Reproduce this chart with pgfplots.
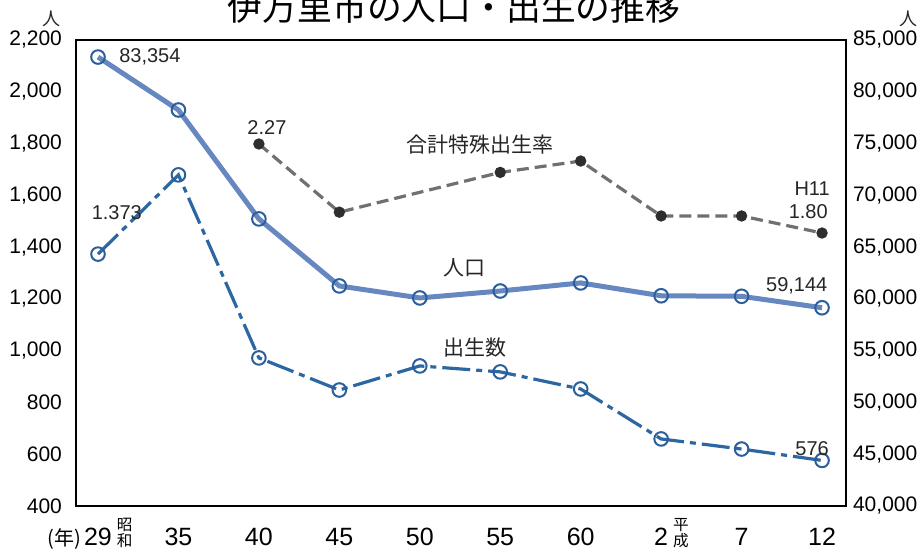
\documentclass[border=0pt]{standalone}
\usepackage{pgfplots}
\pgfplotsset{compat=1.18}
\usepackage{pgfplotstable}
\usepackage{fontspec}
\setmainfont{Liberation Sans}
\newfontfamily\cjk{Noto Sans CJK JP}
\definecolor{popline}{HTML}{6787C0}
\definecolor{popedge}{HTML}{2B5E9C}
\definecolor{birth}{HTML}{2D67A2}
\definecolor{tfrline}{HTML}{707070}
\definecolor{tfrdot}{HTML}{2E2E2E}

\pgfplotstableread{
x pop
0 83354
1 78240
2 67720
3 61250
4 60090
5 60760
6 61540
7 60300
8 60250
9 59144
}\poptable

\pgfplotstableread{
x births
0 1373
1 1679
2 972
3 848
4 941
5 918
6 852
7 659
8 620
9 576
}\birthtable

\pgfplotstableread{
x tfr
2 2.27
3 1.91
5 2.12
6 2.18
7 1.89
8 1.89
9 1.80
}\tfrtable

\newcommand{\era}[2]{\rlap{\hspace{2.5pt}\raisebox{-0.5pt}[0pt][0pt]{\vbox{\cjk\fontsize{7.8}{8}\selectfont\hbox{#1}\hbox{#2}}}}}

\begin{document}
\begin{tikzpicture}
\pgfplotsset{
  base/.style={width=385pt,height=233pt,scale only axis,
    xmin=-0.2735,xmax=9.298,clip=false,
    major tick length=0pt,
    axis line style={line width=1pt,black}},
}
% TFR axis (hidden)
\begin{axis}[base, hide axis, ymin=0.359, ymax=2.819]
\addplot[tfrline, line width=1.6pt, dash pattern=on 6pt off 3pt,
  mark=*, mark size=2pt, mark options={solid,fill=tfrdot,draw=tfrdot}]
  table[x=x,y=tfr]{\tfrtable};
\end{axis}
% main (left) axis with births
\begin{axis}[base, name=ax,
  ymin=400, ymax=2200,
  ytick={400,600,...,2200},
  ytick pos=left,
  xtick={0,...,9},
  xtick pos=bottom,
  xticklabels={{\llap{{\cjk\fontsize{10}{11}\selectfont(年)}\hspace{1.5pt}}29\era{昭}{和}},35,40,45,50,55,60,{2\era{平}{成}},7,12},
  xticklabel style={font=\fontsize{12.5}{14}\selectfont, yshift=-7.5pt},
  yticklabel style={font=\fontsize{10.5}{12}\selectfont, xshift=-3.5pt,
    /pgf/number format/1000 sep={,}},
  /pgf/number format/assume math mode=true,
]
\addplot[birth, line width=1.6pt, dash pattern=on 14pt off 3pt on 3pt off 3pt,
  mark=o, mark size=3.4pt, mark options={solid,fill=white,draw=popedge,line width=1pt}]
  table[x=x,y=births]{\birthtable};
\end{axis}
% right axis with population
\begin{axis}[base,
  ymin=40000, ymax=85000,
  axis x line=none, axis y line*=right,
  ytick={40000,45000,...,85000},
  scaled y ticks=false,
  yticklabel style={font=\fontsize{10.5}{12}\selectfont,
    /pgf/number format/1000 sep={,}},
  /pgf/number format/assume math mode=true,
]
\addplot[popline, line width=2.5pt,
  mark=o, mark size=3.4pt, mark options={fill=white,draw=popedge,line width=1pt}]
  table[x=x,y=pop]{\poptable};
% annotations
\begin{scope}[every node/.style={font=\fontsize{10}{12}\selectfont, text=black!85, inner sep=0pt}]
\node at (rel axis cs:0.096,0.9635) {83,354};
\node at (rel axis cs:0.053,0.629) {1.373};
\node at (rel axis cs:0.248,0.813) {2.27};
\node at (rel axis cs:0.956,0.680) {H11};
\node at (rel axis cs:0.951,0.631) {1.80};
\node at (rel axis cs:0.936,0.472) {59,144};
\node at (rel axis cs:0.956,0.124) {576};
\node[font=\cjk\fontsize{10.5}{12}\selectfont] at (rel axis cs:0.525,0.775) {合計特殊出生率};
\node[font=\cjk\fontsize{10.5}{12}\selectfont] at (rel axis cs:0.505,0.511) {人口};
\node[font=\cjk\fontsize{10.5}{12}\selectfont] at (rel axis cs:0.518,0.341) {出生数};
\node[font=\cjk\fontsize{9}{10}\selectfont] at (rel axis cs:-0.0312,1.045) {人};
\node[font=\cjk\fontsize{9}{10}\selectfont] at (rel axis cs:1.0818,1.045) {人};
\node[anchor=base, font=\cjk\fontsize{17.4}{20}\selectfont, text=black] at (rel axis cs:0.491,1.0418) {伊万里市の人口・出生の推移};
\end{scope}
\end{axis}
\pgfresetboundingbox
\useasboundingbox ([xshift=-38pt,yshift=-22.5pt]ax.south west) rectangle ([xshift=38.5pt,yshift=20pt]ax.north east);
\end{tikzpicture}
\end{document}
